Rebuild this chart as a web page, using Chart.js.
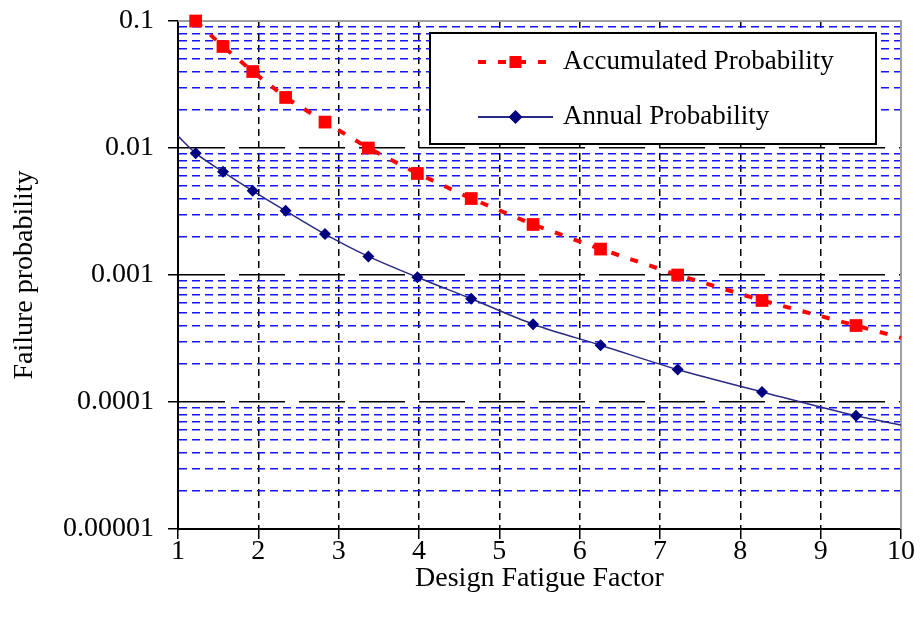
<!DOCTYPE html>
<html>
<head>
<meta charset="utf-8">
<script src="https://cdn.jsdelivr.net/npm/chart.js@4.4.0/dist/chart.umd.min.js"></script>
<style>
  html, body { margin: 0; padding: 0; background: #fff; }
  #wrap { width: 920px; height: 625px; }
</style>
</head>
<body>
<div id="wrap"><canvas id="dffChart"></canvas></div>
<script>
// design fatigue factor of each marker (same for both series)
const dffValues = [1.22, 1.56, 1.93, 2.34, 2.83, 3.37, 3.98, 4.65, 5.42, 6.26, 7.22, 8.27, 9.44];
const accumulatedProb = [0.1, 0.063, 0.04, 0.025, 0.016, 0.01, 0.0063, 0.004, 0.0025, 0.0016, 0.001, 0.00063, 0.0004];
const annualProb = [0.0091, 0.0065, 0.0046, 0.0032, 0.0021, 0.0014, 0.00096, 0.00065, 0.00041, 0.00028, 0.00018, 0.00012, 0.000078];

// where the curves run out at the plot edges (no marker there)
const accumulatedEndX = [10];
const accumulatedEndY = [0.00032];
const annualEndX = [1, 10];
const annualEndY = [0.0124, 0.000066];

const seriesNames = ["Accumulated Probability", "Annual Probability"];
const xTickValues = [1, 2, 3, 4, 5, 6, 7, 8, 9, 10];
const yTickLabels = ["0.1", "0.01", "0.001", "0.0001", "0.00001"];

const RED = "#ff0000";
const NAVY = "#000080";
const FONT = "'Liberation Serif', 'Times New Roman', serif";

function isDecade(v) {
    const l = Math.log10(v);
    return Math.abs(l - Math.round(l)) < 1e-6;
}

function toPoints(xs, ys, edge) {
    return xs.map((x, i) => ({ x: x, y: ys[i], edge: edge }));
}

const accumulatedData = toPoints(dffValues, accumulatedProb, false)
    .concat(toPoints(accumulatedEndX, accumulatedEndY, true));
const annualData = toPoints(annualEndX.slice(0, 1), annualEndY.slice(0, 1), true)
    .concat(toPoints(dffValues, annualProb, false))
    .concat(toPoints(annualEndX.slice(1), annualEndY.slice(1), true));

// gray frame on top / right of the plot
const frame = {
    id: "frame",
    beforeDatasetsDraw(chart) {
        const a = chart.chartArea, ctx = chart.ctx;
        ctx.save();
        ctx.strokeStyle = "#a0a0a0";
        ctx.lineWidth = 2;
        ctx.beginPath();
        ctx.moveTo(a.left, a.top);
        ctx.lineTo(a.right, a.top);
        ctx.lineTo(a.right, a.bottom);
        ctx.stroke();
        ctx.restore();
    }
};

// boxed legend sitting inside the plot
const boxLegend = {
    id: "boxLegend",
    afterDraw(chart) {
        const a = chart.chartArea, ctx = chart.ctx;
        const bx = a.left + 252, by = a.top + 12, bw = 446, bh = 111;
        ctx.save();
        ctx.fillStyle = "#fff";
        ctx.fillRect(bx, by, bw, bh);
        ctx.strokeStyle = "#000";
        ctx.lineWidth = 2;
        ctx.strokeRect(bx, by, bw, bh);

        const lx0 = bx + 48, lx1 = bx + 123, mid = (lx0 + lx1) / 2;
        const rows = [by + 29, by + 84];

        // accumulated: dashed red + square
        const ds0 = chart.data.datasets[0];
        ctx.strokeStyle = ds0.borderColor;
        ctx.lineWidth = ds0.borderWidth;
        ctx.setLineDash(ds0.borderDash);
        ctx.beginPath();
        ctx.moveTo(lx0, rows[0]);
        ctx.lineTo(lx1, rows[0]);
        ctx.stroke();
        ctx.setLineDash([]);
        ctx.fillStyle = RED;
        ctx.fillRect(mid - 6, rows[0] - 6, 12, 12);

        // annual: solid navy + diamond
        const ds1 = chart.data.datasets[1];
        ctx.strokeStyle = ds1.borderColor;
        ctx.lineWidth = 2;
        ctx.beginPath();
        ctx.moveTo(lx0, rows[1]);
        ctx.lineTo(lx1, rows[1]);
        ctx.stroke();
        ctx.fillStyle = NAVY;
        ctx.beginPath();
        ctx.moveTo(mid, rows[1] - 7);
        ctx.lineTo(mid + 7, rows[1]);
        ctx.lineTo(mid, rows[1] + 7);
        ctx.lineTo(mid - 7, rows[1]);
        ctx.closePath();
        ctx.fill();

        ctx.fillStyle = "#000";
        ctx.font = "27px " + FONT;
        ctx.textBaseline = "middle";
        ctx.fillText(seriesNames[0], bx + 133, rows[0]);
        ctx.fillText(seriesNames[1], bx + 133, rows[1]);
        ctx.restore();
    }
};

Chart.defaults.font.family = FONT;
Chart.defaults.font.size = 28;
Chart.defaults.color = "#000";

new Chart(document.getElementById("dffChart"), {
    type: "line",
    data: {
        datasets: [{
            label: seriesNames[0],
            data: accumulatedData,
            borderColor: RED,
            backgroundColor: RED,
            borderWidth: 4,
            borderDash: [8, 12],
            pointStyle: "rect",
            pointRadius: c => (c.raw && c.raw.edge) ? 0 : 9,
            pointBorderWidth: 0,
            pointBackgroundColor: RED,
            tension: 0,
            clip: false
        }, {
            label: seriesNames[1],
            data: annualData,
            borderColor: "#2a2a85",
            backgroundColor: NAVY,
            borderWidth: 1.5,
            pointStyle: "rectRot",
            pointRadius: c => (c.raw && c.raw.edge) ? 0 : 6,
            pointBorderWidth: 0,
            pointBackgroundColor: NAVY,
            cubicInterpolationMode: "monotone",
            clip: false
        }]
    },
    options: {
        responsive: true,
        maintainAspectRatio: false,
        animation: false,
        layout: { padding: { top: 21, right: 19, left: 0, bottom: 0 } },
        plugins: {
            legend: { display: false },
            tooltip: { enabled: false }
        },
        scales: {
            x: {
                type: "linear",
                min: 1,
                max: 10,
                afterBuildTicks: s => { s.ticks = xTickValues.map(v => ({ value: v })); },
                afterFit: s => { s.height = 96; },
                ticks: { autoSkip: false, padding: -4, maxRotation: 0 },
                grid: { color: "#000", lineWidth: 1.5, tickLength: 10, tickColor: "#000", tickWidth: 1.5 },
                border: { color: "#000", width: 2, dash: c => c.tick ? [7, 5] : [] },
                title: { display: true, text: "Design Fatigue Factor", font: { size: 28 }, padding: { top: 0, bottom: 30 } }
            },
            y: {
                type: "logarithmic",
                min: 0.00001,
                max: 0.1,
                afterBuildTicks: s => {
                    // keep 1..9 x 10^n only
                    s.ticks = s.ticks.filter(t => {
                        const m = t.value / Math.pow(10, Math.floor(Math.log10(t.value) + 1e-9));
                        return Math.abs(m - Math.round(m)) < 1e-6;
                    });
                },
                afterFit: s => { s.width = 178; s.paddingTop = 0; s.paddingBottom = 0; },
                ticks: {
                    autoSkip: false,
                    padding: 14,
                    callback: v => isDecade(v) ? yTickLabels[Math.round(-Math.log10(v)) - 1] : ""
                },
                grid: {
                    color: c => (c.tick && isDecade(c.tick.value)) ? "#000" : "#1414ff",
                    lineWidth: 1.5,
                    tickLength: 10,
                    tickColor: c => (c.tick && isDecade(c.tick.value)) ? "#000" : "rgba(0,0,0,0)",
                    tickWidth: 1.5
                },
                border: {
                    color: "#000",
                    width: 2,
                    dash: c => c.tick ? (isDecade(c.tick.value) ? [46, 14] : [8, 5]) : []
                },
                title: { display: true, text: "Failure probability", font: { size: 28 }, padding: { top: 8, bottom: 0 } }
            }
        }
    },
    plugins: [frame, boxLegend]
});
</script>
</body>
</html>
